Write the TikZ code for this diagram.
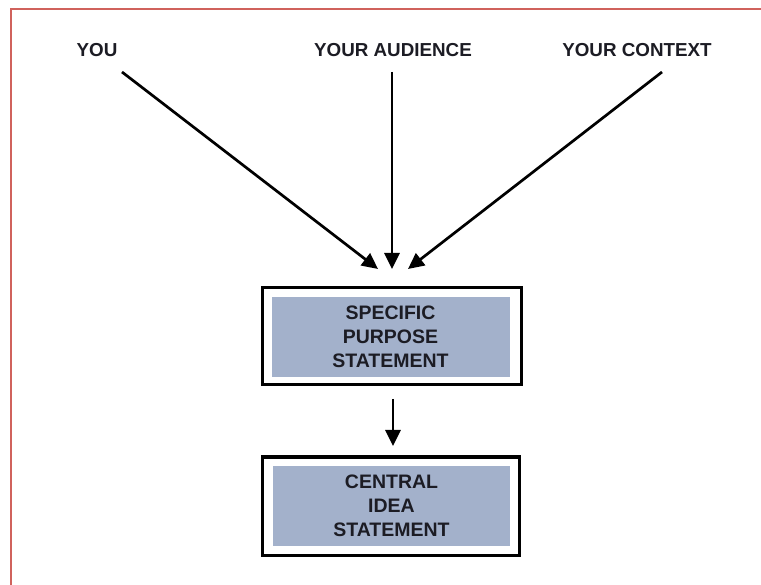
\documentclass[tikz,border=0pt]{standalone}
\usepackage{fontspec}
\setmainfont{Liberation Sans}
\usetikzlibrary{arrows.meta}
\definecolor{frame}{HTML}{D0625C}
\definecolor{boxfill}{HTML}{A3B1CB}
\definecolor{ink}{HTML}{1C1C24}
\begin{document}
\begin{tikzpicture}[x=1pt,y=-1pt,
  lbl/.style={font=\bfseries\fontsize{18.8}{22}\selectfont,text=ink,inner sep=0pt},
  outerbox/.style={draw=black,line width=3pt,fill=white,minimum width=259pt,minimum height=97pt,inner sep=0pt},
  innerbox/.style={fill=boxfill,minimum width=238pt,minimum height=80pt,align=center,
    font=\bfseries\fontsize{19.5}{24}\selectfont,text=ink,inner sep=0pt},
  conn/.style={line width=2.7pt,-{Triangle[length=16pt,width=15pt]}}]
\useasboundingbox (0,0) rectangle (761,585);
\draw[frame,line width=2pt] (11,585) -- (11,9) -- (761,9);
\node[lbl] (you) at (97,50) {YOU};
\node[lbl] (aud) at (393,50) {YOUR AUDIENCE};
\node[lbl] (ctx) at (637,50) {YOUR CONTEXT};
\coordinate (y0) at (122,72);
\coordinate (a0) at (392,72);
\coordinate (c0) at (662,72);
\coordinate (y1) at (378,269);
\coordinate (a1) at (392,269);
\coordinate (c1) at (408,269);
\node[outerbox] (sp) at (392,336) {};
\node[innerbox] (spi) at (390.5,337) {SPECIFIC\\PURPOSE\\STATEMENT};
\node[outerbox,minimum width=257pt,minimum height=98pt] (ci) at (390.5,506) {};
\node[innerbox,minimum width=237pt] (cii) at (391.5,506) {CENTRAL\\IDEA\\STATEMENT};
\draw[conn] (y0) -- (y1);
\draw[conn] (a0) -- (a1);
\draw[conn] (c0) -- (c1);
\coordinate (m0) at (393,399);
\coordinate (m1) at (393,446);
\draw[conn] (m0) -- (m1);
\end{tikzpicture}
\end{document}
